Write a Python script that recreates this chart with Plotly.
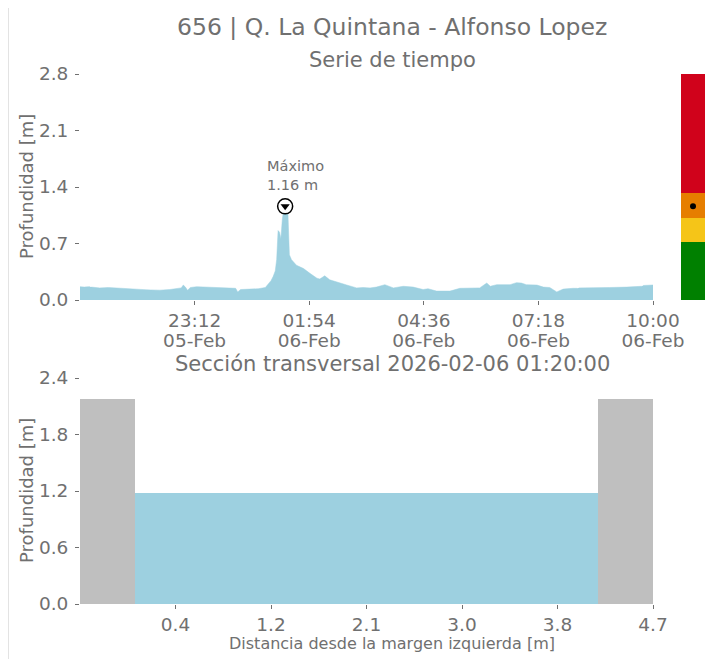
import plotly.graph_objects as go

# ---------------- data ----------------
TITLE = "656 | Q. La Quintana - Alfonso Lopez"
SUB_TS = "Serie de tiempo"
SUB_SEC = "Sección transversal 2026-02-06 01:20:00"
Y_LABEL = "Profundidad [m]"
X_LABEL_SEC = "Distancia desde la margen izquierda [m]"

times = [
    "2026-02-05 20:30", "2026-02-05 20:36", "2026-02-05 20:42", "2026-02-05 20:44",
    "2026-02-05 20:45", "2026-02-05 20:46", "2026-02-05 20:58", "2026-02-05 21:10",
    "2026-02-05 21:20", "2026-02-05 21:30", "2026-02-05 21:40", "2026-02-05 21:52",
    "2026-02-05 22:02", "2026-02-05 22:10", "2026-02-05 22:23", "2026-02-05 22:37",
    "2026-02-05 22:48", "2026-02-05 22:53", "2026-02-05 22:56", "2026-02-05 22:59",
    "2026-02-05 23:02", "2026-02-05 23:06", "2026-02-05 23:15", "2026-02-05 23:26",
    "2026-02-05 23:41", "2026-02-05 23:55", "2026-02-06 00:05", "2026-02-06 00:10",
    "2026-02-06 00:13", "2026-02-06 00:17", "2026-02-06 00:30", "2026-02-06 00:42",
    "2026-02-06 00:52", "2026-02-06 00:56", "2026-02-06 01:00", "2026-02-06 01:03",
    "2026-02-06 01:06", "2026-02-06 01:08", "2026-02-06 01:10", "2026-02-06 01:12",
    "2026-02-06 01:14", "2026-02-06 01:16", "2026-02-06 01:18", "2026-02-06 01:20",
    "2026-02-06 01:22", "2026-02-06 01:24", "2026-02-06 01:26", "2026-02-06 01:29",
    "2026-02-06 01:36", "2026-02-06 01:46", "2026-02-06 01:55", "2026-02-06 02:05",
    "2026-02-06 02:09", "2026-02-06 02:16", "2026-02-06 02:23", "2026-02-06 02:33",
    "2026-02-06 02:47", "2026-02-06 03:01", "2026-02-06 03:10", "2026-02-06 03:20",
    "2026-02-06 03:29", "2026-02-06 03:41", "2026-02-06 03:53", "2026-02-06 04:07",
    "2026-02-06 04:21", "2026-02-06 04:35", "2026-02-06 04:42", "2026-02-06 04:54",
    "2026-02-06 05:13", "2026-02-06 05:27", "2026-02-06 05:41", "2026-02-06 05:55",
    "2026-02-06 06:05", "2026-02-06 06:10", "2026-02-06 06:19", "2026-02-06 06:38",
    "2026-02-06 06:47", "2026-02-06 06:54", "2026-02-06 07:01", "2026-02-06 07:16",
    "2026-02-06 07:25", "2026-02-06 07:34", "2026-02-06 07:44", "2026-02-06 07:53",
    "2026-02-06 08:07", "2026-02-06 08:13", "2026-02-06 08:14", "2026-02-06 08:15",
    "2026-02-06 08:36", "2026-02-06 08:59", "2026-02-06 09:23", "2026-02-06 09:42",
    "2026-02-06 09:44", "2026-02-06 09:45", "2026-02-06 09:46", "2026-02-06 10:00",
]
depth = [
    0.165, 0.160, 0.165, 0.165,
    None, 0.160, 0.150, 0.155,
    0.148, 0.145, 0.140, 0.130,
    0.128, 0.125, 0.122, 0.130,
    0.140, 0.150, 0.185, 0.160,
    0.120, 0.155, 0.165, 0.160,
    0.160, 0.155, 0.150, 0.145,
    0.100, 0.130, 0.135, 0.140,
    0.155, 0.200, 0.240, 0.290,
    0.360, 0.500, 0.860, 0.840,
    0.760, 1.000, 1.120, 1.160,
    1.120, 1.060, 0.560, 0.500,
    0.430, 0.390, 0.330, 0.270,
    0.260, 0.300, 0.250, 0.220,
    0.186, 0.150, 0.155, 0.150,
    0.160, 0.190, 0.150, 0.170,
    0.160, 0.130, 0.140, 0.110,
    0.110, 0.145, 0.150, 0.150,
    0.210, 0.170, 0.190, 0.190,
    0.215, 0.210, 0.190, 0.185,
    0.160, 0.155, 0.100, 0.135,
    0.145, 0.145, None, 0.150,
    0.150, 0.155, 0.160, 0.170,
    0.170, None, 0.180, 0.186,
]

peak_time = "2026-02-06 01:20"
peak_value = 1.16

ts_range = ["2026-02-05 20:30", "2026-02-06 10:00"]
ts_xticks = ["2026-02-05 23:12", "2026-02-06 01:54", "2026-02-06 04:36",
             "2026-02-06 07:18", "2026-02-06 10:00"]
ts_xtick_hours = ["23:12", "01:54", "04:36", "07:18", "10:00"]
ts_xtick_days = ["05-Feb", "06-Feb", "06-Feb", "06-Feb", "06-Feb"]
ts_yticks = [0.0, 0.7, 1.4, 2.1, 2.8]

alert_levels = [0.0, 0.72, 1.02, 1.33, 2.8]
alert_colors = ["#008000", "#f5c518", "#e67e00", "#d0021b"]

sec_left = [-0.5, 0.0, 4.2]
sec_right = [0.0, 4.2, 4.7]
sec_height = [2.18, 1.18, 2.18]
sec_colors = ["#bfbfbf", "#9dd0e0", "#bfbfbf"]
sec_xticks = [0.3667, 1.2333, 2.1, 2.9667, 3.8333, 4.7]
sec_xticklabels = ["0.4", "1.2", "2.1", "3.0", "3.8", "4.7"]
sec_yticks = [0.0, 0.6, 1.2, 1.8, 2.4]

# ---------------- figure ----------------
OFF = 8  # page body margin
W, H = 712, 651
TXT = "#707070"
FONT = "DejaVu Sans"
WATER = "#9dd0e0"


def px(x):
    return (x - OFF) / W


def py(y):
    return 1 - (y - OFF) / H


fig = go.Figure()

fig.add_trace(go.Scatter(
    x=times, y=depth, mode="lines", fill="tozeroy", connectgaps=False,
    line=dict(color=WATER, width=0.5), fillcolor=WATER,
    xaxis="x", yaxis="y", hoverinfo="skip", showlegend=False))

fig.add_trace(go.Scatter(
    x=[peak_time], y=[peak_value], mode="markers",
    marker=dict(symbol="circle", size=15, color="white",
                line=dict(color="black", width=1.5)),
    xaxis="x", yaxis="y", showlegend=False, hoverinfo="skip"))
fig.add_trace(go.Scatter(
    x=[peak_time], y=[peak_value], mode="markers",
    marker=dict(symbol="triangle-down", size=8, color="black"),
    xaxis="x", yaxis="y", showlegend=False, hoverinfo="skip"))

# invisible trace to activate the second (date) label axis
fig.add_trace(go.Scatter(
    x=[ts_range[0]], y=[None], mode="markers", xaxis="x4", yaxis="y",
    showlegend=False, hoverinfo="skip"))

# alert bar
fig.add_trace(go.Bar(
    x=[0] * 4,
    y=[alert_levels[i + 1] - alert_levels[i] for i in range(4)],
    base=alert_levels[:-1], width=1,
    marker=dict(color=alert_colors, line=dict(width=0)),
    xaxis="x3", yaxis="y3", showlegend=False, hoverinfo="skip"))
fig.add_trace(go.Scatter(
    x=[0], y=[peak_value], mode="markers",
    marker=dict(size=6, color="black"),
    xaxis="x3", yaxis="y3", showlegend=False, hoverinfo="skip"))

# cross section
fig.add_trace(go.Bar(
    x=[(l + r) / 2 for l, r in zip(sec_left, sec_right)],
    y=sec_height,
    width=[r - l for l, r in zip(sec_left, sec_right)],
    marker=dict(color=sec_colors, line=dict(width=0)),
    xaxis="x2", yaxis="y2", showlegend=False, hoverinfo="skip"))

TICK = 18.5
axis_common = dict(showgrid=False, zeroline=False, showline=False,
                   ticks="outside", ticklen=4, tickwidth=1, tickcolor=TXT,
                   tickfont=dict(family=FONT, size=TICK, color=TXT),
                   automargin=False, fixedrange=True)

fig.update_layout(
    width=W, height=H, template="none",
    margin=dict(l=0, r=0, t=0, b=0, pad=0),
    paper_bgcolor="white", plot_bgcolor="white",
    bargap=0,
    xaxis=dict(domain=[px(80), px(653)], anchor="y", type="date",
               range=ts_range, tickvals=ts_xticks, ticktext=ts_xtick_hours,
               **axis_common),
    xaxis4=dict(domain=[px(80), px(653)], anchor="y", type="date", overlaying="x",
                side="bottom", range=ts_range, tickvals=ts_xticks,
                ticktext=ts_xtick_days, ticks="", ticklabelstandoff=27,
                showgrid=False, zeroline=False, showline=False,
                tickfont=dict(family=FONT, size=TICK, color=TXT),
                automargin=False, fixedrange=True),
    yaxis=dict(domain=[py(300), py(74)], anchor="x", range=[0, 2.8],
               tickvals=ts_yticks, ticktext=[f"{v:.1f}" for v in ts_yticks],
               ticklabelstandoff=3, **axis_common),
    xaxis2=dict(domain=[px(80), px(653)], anchor="y2", range=[-0.5, 4.7],
                tickvals=sec_xticks, ticktext=sec_xticklabels, **axis_common),
    yaxis2=dict(domain=[py(604), py(378)], anchor="x2", range=[0, 2.4],
                tickvals=sec_yticks, ticktext=[f"{v:.1f}" for v in sec_yticks],
                ticklabelstandoff=3, **axis_common),
    xaxis3=dict(domain=[px(681), px(705)], anchor="y3", range=[-0.5, 0.5],
                visible=False, fixedrange=True),
    yaxis3=dict(domain=[py(300), py(74)], anchor="x3", range=[0, 2.8],
                visible=False, fixedrange=True),
)

ann = [
    dict(text=TITLE, x=px(392), y=py(27), size=23.5),
    dict(text=SUB_TS, x=px(392), y=py(60), size=21),
    dict(text=SUB_SEC, x=px(392), y=py(364), size=21),
    dict(text=X_LABEL_SEC, x=px(392), y=py(643.5), size=16),
]
for a in ann:
    fig.add_annotation(text=a["text"], x=a["x"], y=a["y"], xref="paper", yref="paper",
                       xanchor="center", yanchor="middle", showarrow=False,
                       font=dict(family=FONT, size=a["size"], color=TXT))
for yc in (187, 491):
    fig.add_annotation(text=Y_LABEL, x=px(26), y=py(yc), xref="paper", yref="paper",
                       xanchor="center", yanchor="middle", textangle=-90,
                       showarrow=False, font=dict(family=FONT, size=18, color=TXT))

fig.add_annotation(text=f"Máximo<br>{peak_value:.2f} m", x=peak_time, y=peak_value,
                   xref="x", yref="y", xanchor="left", yanchor="bottom",
                   xshift=-20, yshift=11, align="left", showarrow=False,
                   font=dict(family=FONT, size=14.5, color=TXT))

fig.add_shape(type="rect", xref="paper", yref="paper",
              x0=px(8.5), x1=px(713.5), y0=-0.05, y1=py(7.5),
              line=dict(color="#e3e3e3", width=1), fillcolor="rgba(0,0,0,0)",
              layer="below")

fig.write_html("out.html")
